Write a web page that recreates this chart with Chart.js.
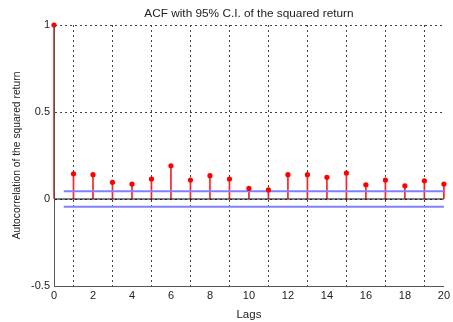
<!DOCTYPE html>
<html>
<head>
<meta charset="utf-8">
<script src="https://cdn.jsdelivr.net/npm/chart.js@4/dist/chart.umd.min.js"></script>
<style>
html,body{margin:0;padding:0;background:#fff;}
#wrap{width:453px;height:322px;position:relative;}
</style>
</head>
<body>
<div id="wrap"><canvas id="c" width="453" height="322"></canvas></div>
<script>
const lags = [0,1,2,3,4,5,6,7,8,9,10,11,12,13,14,15,16,17,18,19,20];
const acf = [1,0.145,0.140,0.096,0.086,0.115,0.191,0.109,0.134,0.115,0.061,0.052,0.140,0.140,0.125,0.149,0.082,0.109,0.076,0.105,0.086];
const ciLevel = 0.044;
const ciRange = [0.5, 20];
const xTicks = [0,2,4,6,8,10,12,14,16,18,20];
const yTicks = [-0.5,0,0.5,1];
const titleText = 'ACF with 95% C.I. of the squared return';
const xLabel = 'Lags';
const yLabel = 'Autocorrelation of the squared return';

const pts = lags.map((l,i)=>({x:l,y:acf[i]}));
const FONT = "'Liberation Sans', Arial, sans-serif";

new Chart(document.getElementById('c'), {
  type: 'bar',
  data: {
    datasets: [
      {type:'scatter', data: pts, pointRadius: 2.6, pointBackgroundColor:'#ff0000', pointBorderColor:'#ff0000', pointBorderWidth:0, clip:false, showLine:false},
      {type:'line', data: [{x:ciRange[0],y:ciLevel},{x:ciRange[1],y:ciLevel}], borderColor:'#8080ff', borderWidth:2, pointRadius:0, clip:false},
      {type:'line', data: [{x:ciRange[0],y:-ciLevel},{x:ciRange[1],y:-ciLevel}], borderColor:'#8080ff', borderWidth:2, pointRadius:0, clip:false},
      {type:'line', data: [{x:lags[0],y:0},{x:lags[lags.length-1],y:0}], borderColor:'#000', borderWidth:1, pointRadius:0, clip:false},
      {type:'bar', data: pts, backgroundColor:'#ff2020', borderWidth:0, barThickness:1, clip:false}
    ]
  },
  options: {
    responsive:false,
    animation:false,
    layout:{padding:{left:0,right:9,top:0,bottom:0}},
    plugins:{
      legend:{display:false},
      tooltip:{enabled:false},
      title:{display:true, text:titleText, color:'#222', font:{family:FONT,size:11.8,weight:'normal'}, padding:{top:7,bottom:3.84}}
    },
    scales:{
      x:{
        type:'linear', min:0, max:20, offset:false,
        afterBuildTicks: s => { s.ticks = xTicks.map(v=>({value:v})); },
        afterFit: s => { s.height = 36; },
        ticks:{color:'#222', font:{family:FONT,size:11}, padding:3, maxRotation:0, autoSkip:false, callback:v=>String(v)},
        grid:{color:'#444', lineWidth:1, drawTicks:false},
        border:{display:true, color:'#555', dash:[2,3], width:1},
        title:{display:true, text:xLabel, color:'#222', font:{family:FONT,size:11.5}, padding:{top:2,bottom:0}}
      },
      y:{
        type:'linear', min:-0.5, max:1,
        afterBuildTicks: s => { s.ticks = yTicks.map(v=>({value:v})); },
        afterFit: s => { s.width = 54; },
        ticks:{color:'#222', font:{family:FONT,size:11}, padding:4, autoSkip:false, callback:v=>String(v)},
        grid:{color:'#444', lineWidth:1, drawTicks:false},
        border:{display:true, color:'#555', dash:[2,3], width:1},
        title:{display:true, text:yLabel, color:'#222', font:{family:FONT,size:10.3}, padding:{top:11,bottom:6}}
      }
    }
  },
  plugins:[{
    id:'titleOverPlot',
    afterLayout(chart){
      const t = chart.titleBlock, a = chart.chartArea;
      if (t && a) { t.left = a.left; t.right = a.right; t.width = a.right - a.left; }
    }
  },{
    id:'solidAxes',
    afterDraw(chart){
      const {ctx, chartArea:a} = chart;
      ctx.save();
      ctx.strokeStyle='#555'; ctx.lineWidth=1; ctx.setLineDash([]);
      ctx.beginPath();
      ctx.moveTo(Math.round(a.left)+0.5, a.top);
      ctx.lineTo(Math.round(a.left)+0.5, Math.round(a.bottom)+0.5);
      ctx.lineTo(a.right, Math.round(a.bottom)+0.5);
      ctx.stroke();
      ctx.restore();
    }
  }]
});
</script>
</body>
</html>
